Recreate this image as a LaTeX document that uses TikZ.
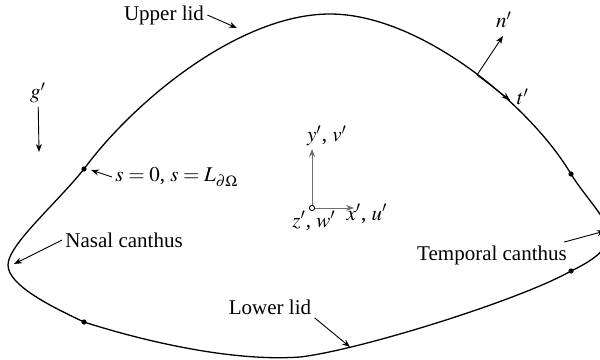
\documentclass[tikz,border=0pt]{standalone}
\usepackage{mathptmx}
\usepackage{fontspec}
\setmainfont{Liberation Serif}
\usepackage{xcolor}
\usepackage{tikz}
\usetikzlibrary{arrows.meta,positioning,calc}
\definecolor{sgray}{HTML}{6E6E6E}
\tikzset{
  lid/.style={line width=0.65pt},
  lbl/.style={inner sep=1.5pt},
  pt/.style={circle, fill=black, inner sep=0pt, minimum size=2.6pt},
}

\begin{document}
\begin{tikzpicture}[x=0.5pt, y=-0.5pt, >={Stealth[length=4pt,width=3pt]}, line width=0.45pt,
  font=\fontsize{10.5}{12}\selectfont]
\useasboundingbox (0,0) rectangle (600,359);
\clip (0,0) rectangle (600,359);
% eye outline
\coordinate (nasalC) at (8,265);
\coordinate (temporalC) at (609,235);
\draw[lid] (nasalC) .. controls (8,245) and (55,205) .. (84,169)
  .. controls (135,100) and (240,14) .. (330,14)
  .. controls (420,14) and (530,105) .. (571,174)
  .. controls (585,197) and (609,220) .. (temporalC)
  .. controls (609,250) and (590,262) .. (571,271)
  .. controls (520,300) and (360,350) .. (300,357)
  .. controls (230,362) and (140,340) .. (84,322)
  .. controls (50,306) and (8,285) .. (nasalC) -- cycle;
\node[pt] (s0) at (84,169) {};
\node[pt] (ur) at (571,174) {};
\node[pt] (lr) at (571,271) {};
\node[pt] (ll) at (84,322) {};
% labels
\node[lbl] (upper) at (164,15) {Upper lid};
\coordinate (upperTip) at (237,28);
\draw[->] (upper.east) -- (upperTip);
\node[lbl] (lower) at (270,307) {Lower lid};
\coordinate (lowerTip) at (350,347);
\draw[->] (lower.south east) -- (lowerTip);
\node[lbl, anchor=west] (nasal) at (62,240) {Nasal canthus};
\coordinate (nasalTip) at (14,264);
\draw[->] (nasal.west) -- (nasalTip);
\node[lbl] (temporal) at (492,255) {Temporal canthus};
\coordinate (temporalTip) at (605,231);
\draw[->] ($(temporal.north east)+(-6,0)$) -- (temporalTip);
\node[lbl, anchor=west] (slab) at (112,177) {$s=0$, $s=L_{\partial\Omega}$};
\coordinate (sTip) at (91,170);
\draw[->] (slab.west) -- (sTip);
% gravity
\node[lbl] (g) at (38,93) {$g'$};
\coordinate (gEnd) at (39,152);
\draw[->] (g) -- (gEnd);
% normal and tangent
\coordinate (nt) at (477,75);
\coordinate (nTip) at (503,36);
\coordinate (tTip) at (510,100);
\draw[->] (nt) -- (nTip);
\draw[->] (nt) -- (tTip);
\node[lbl] (nlab) at (504,20) {$n'$};
\node[lbl] (tlab) at (523,97) {$t'$};
% axes
\coordinate (O) at (312,208);
\coordinate (yTip) at (312,149);
\coordinate (xTip) at (354,208);
\draw[->, sgray] (O) -- (yTip);
\draw[->, sgray] (O) -- (xTip);
\draw[fill=white] (O) circle (1.3pt);
\node[lbl] (ylab) at (327,136) {$y'$, $v'$};
\node[lbl] (zlab) at (314,221) {$z'$, $w'$};
\node[lbl] (xlab) at (367,214) {$x'$, $u'$};
\end{tikzpicture}
\end{document}
